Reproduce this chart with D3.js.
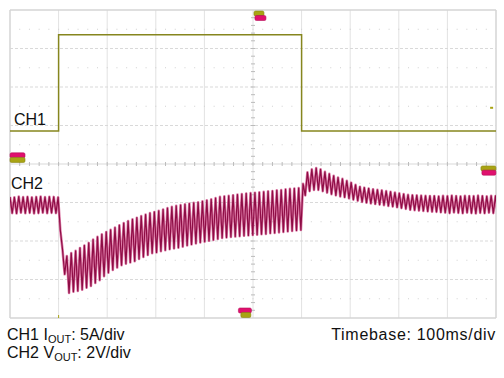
<!DOCTYPE html>
<html>
<head>
<meta charset="utf-8">
<script src="https://cdn.jsdelivr.net/npm/d3@7"></script>
<style>
  body { margin: 0; background: #fff; }
  svg text { font-family: "Liberation Sans", Arial, Helvetica, sans-serif; fill: #111; }
</style>
</head>
<body>
<div id="scope"></div>
<script>
// screen: 10 div x 100 ms, 8 div vertical
var width = 504, height = 378;
var timeDivs = d3.range(0, 1001, 100);     // ms
var vertDivs = d3.range(-4, 5, 1);          // divisions

// CH1 output current (A), 5 A/div
var ch1Time = [0, 100, 100, 600, 600, 1000];
var ch1Amps = [0, 0, 12.5, 12.5, 0, 0];
var ch1Pos = 0.86, ch1Scale = 5;

// CH2 output voltage deviation (V), 2 V/div, ripple peaks and troughs every 9 ms
var ripplePeriod = 9;
var ch2Peak = [0.42,0.40,0.44,0.41,0.43,0.40,0.42,0.44,0.41,0.43,0.42,0.40,
  -2.30,-2.65,-2.50,-2.38,-2.23,-2.10,-1.97,-1.80,-1.65,-1.52,-1.40,-1.29,-1.17,-1.05,
  -0.94,-0.83,-0.74,-0.66,-0.58,-0.50,-0.42,-0.36,-0.30,-0.23,-0.16,-0.09,-0.04,0.00,
  0.04,0.07,0.11,0.14,0.19,0.24,0.30,0.36,0.42,0.45,0.48,0.51,0.54,0.57,0.60,0.62,
  0.64,0.66,0.68,0.71,0.73,0.76,0.78,0.81,0.84,0.86,0.88,
  1.10,1.70,1.85,1.92,1.85,1.72,1.62,1.52,1.43,1.36,1.26,1.16,1.05,0.95,0.90,0.86,
  0.82,0.79,0.76,0.72,0.69,0.65,0.61,0.57,0.53,0.51,0.50,0.49,0.48,0.47,
  0.47,0.45,0.48,0.46,0.49,0.47,0.45,0.48,0.47,0.46,0.49,0.47,0.45,0.48,0.47];
var ch2Trough = [-0.42,-0.44,-0.40,-0.43,-0.41,-0.44,-0.42,-0.40,-0.43,-0.41,-0.42,-1.30,
  -3.60,-4.57,-4.50,-4.46,-4.40,-4.30,-4.20,-4.05,-3.90,-3.70,-3.52,-3.37,-3.25,-3.13,
  -3.05,-2.98,-2.92,-2.80,-2.70,-2.60,-2.50,-2.46,-2.40,-2.35,-2.30,-2.26,-2.22,-2.16,
  -2.10,-2.05,-2.00,-1.95,-1.90,-1.86,-1.81,-1.76,-1.71,-1.69,-1.66,-1.64,-1.62,-1.60,
  -1.58,-1.56,-1.54,-1.52,-1.50,-1.47,-1.45,-1.42,-1.40,-1.37,-1.35,-1.32,-1.30,
  0.50,0.72,0.78,0.78,0.72,0.64,0.56,0.50,0.44,0.40,0.34,0.28,0.22,0.16,0.12,0.08,
  0.05,0.02,-0.01,-0.05,-0.08,-0.12,-0.16,-0.20,-0.25,-0.27,-0.29,-0.31,-0.33,-0.35,
  -0.36,-0.38,-0.40,-0.42,-0.39,-0.41,-0.43,-0.40,-0.42,-0.44,-0.41,-0.43,-0.40,-0.42,-0.41];
var ch2Pos = -1.065, ch2Scale = 2;

var col1 = "#86861e", col2 = "#8e0c45", col2Glow = "#d2508a";
var tagOlive = "#a9a414", tagPink = "#e0106e";

var x = d3.scaleLinear().domain([0, 1000]).range([10, 496]);
var y = d3.scaleLinear().domain([-4, 4]).range([318, 10]);

var svg = d3.select("#scope").append("svg")
    .attr("width", width).attr("height", height);

/* grid */
var grid = svg.append("g").attr("class", "grid");
grid.selectAll(".vl").data(timeDivs).enter().append("line")
    .attr("x1", d => x(d)).attr("x2", d => x(d))
    .attr("y1", y(4)).attr("y2", y(-4))
    .style("stroke", d => (d == 0 || d == 1000) ? "#d4d4d4" : "#e2e2e2")
    .style("stroke-width", d => (d == 0 || d == 1000) ? 1.5 : 1);
grid.selectAll(".hl").data(vertDivs).enter().append("line")
    .attr("x1", x(0)).attr("x2", x(1000))
    .attr("y1", d => y(d)).attr("y2", d => y(d))
    .style("stroke", d => (Math.abs(d) == 4) ? "#d4d4d4" : "#d9d9d9")
    .style("stroke-width", d => (Math.abs(d) == 4) ? 1.5 : 1)
    .style("stroke-dasharray", d => (Math.abs(d) == 4 || d == 0) ? null : "3,2");

// faint dots on half division rows
var halfRows = d3.range(-3.5, 4, 1);
var dotCols = d3.range(20, 1000, 20);
halfRows.forEach(function(r) {
  grid.selectAll(null).data(dotCols).enter().append("rect")
      .attr("x", d => x(d) - 0.5).attr("y", y(r) - 0.5)
      .attr("width", 1).attr("height", 1)
      .style("fill", "#d0d0d0");
});

// minor ticks on centre cross
grid.selectAll(".tx").data(d3.range(20, 1000, 20)).enter().append("line")
    .attr("x1", d => x(d)).attr("x2", d => x(d))
    .attr("y1", y(0) - 2).attr("y2", y(0) + 2)
    .style("stroke", "#bbb");
grid.selectAll(".ty").data(d3.range(-3.8, 4, 0.2)).enter().append("line")
    .attr("x1", x(500) - 2).attr("x2", x(500) + 2)
    .attr("y1", d => y(d)).attr("y2", d => y(d))
    .style("stroke", "#bbb");

/* CH1 trace */
var ch1Data = ch1Time.map((t, i) => ({ t: t, v: ch1Pos + ch1Amps[i] / ch1Scale }));
svg.append("path")
    .datum(ch1Data)
    .attr("d", d3.line().x(d => x(d.t)).y(d => y(d.v)))
    .style("fill", "none").style("stroke", col1).style("stroke-width", 1.5);

/* CH2 trace */
var ch2Data = [];
ch2Peak.forEach(function(p, k) {
  ch2Data.push({ t: k * ripplePeriod, v: ch2Pos + p / ch2Scale });
  ch2Data.push({ t: k * ripplePeriod + ripplePeriod / 2, v: ch2Pos + ch2Trough[k] / ch2Scale });
});
svg.append("clipPath").attr("id", "clip")
  .append("rect").attr("x", x(0)).attr("y", y(4)).attr("width", x(1000) - x(0)).attr("height", y(-4) - y(4));
var line2 = d3.line().x(d => x(d.t)).y(d => y(d.v));
svg.append("path")
    .datum(ch2Data)
    .attr("clip-path", "url(#clip)")
    .attr("d", line2)
    .style("fill", "none").style("stroke", col2Glow).style("stroke-width", 2.6)
    .style("stroke-opacity", 0.75).style("stroke-linejoin", "round");
svg.append("path")
    .datum(ch2Data)
    .attr("clip-path", "url(#clip)")
    .attr("d", line2)
    .style("fill", "none").style("stroke", col2).style("stroke-width", 1.2)
    .style("stroke-linejoin", "round");

/* markers */
function marker(cx, cy, w, c) {
  svg.append("rect").attr("x", cx).attr("y", cy).attr("width", w).attr("height", 5)
     .attr("rx", 1.5).style("fill", c).style("stroke", d3.color(c).darker(0.6)).style("stroke-width", 0.6);
}
marker(x(0), y(0.29), 15, tagPink);
marker(x(0), y(0.17), 15, tagOlive);
marker(x(502), y(4) + 1, 10, tagOlive);
marker(x(504), y(4) + 5.5, 11, tagPink);
marker(x(470), y(-4) - 10, 13, tagPink);
marker(x(475), y(-4) - 5.5, 10, tagOlive);
marker(x(969), y(-0.05), 15, tagOlive);
marker(x(971), y(-0.16), 14, tagPink);
svg.append("line").attr("x1", x(100)).attr("x2", x(100)).attr("y1", y(-4) - 3).attr("y2", y(-4))
   .style("stroke", tagOlive);
svg.append("line").attr("x1", x(992) - 2).attr("x2", x(992) + 1).attr("y1", y(ch1Pos + 0.6)).attr("y2", y(ch1Pos + 0.6))
   .style("stroke", tagOlive).style("stroke-width", 2);

/* labels */
svg.append("text").attr("x", 14).attr("y", 125).style("font-size", "16px").text("CH1");
svg.append("text").attr("x", 11).attr("y", 189).style("font-size", "16px").text("CH2");

var t1 = svg.append("text").attr("x", 7).attr("y", 340).style("font-size", "16px");
t1.append("tspan").text("CH1 I");
t1.append("tspan").attr("dy", 3).style("font-size", "11px").text("OUT");
t1.append("tspan").attr("dy", -3).text(": 5A/div");

var t2 = svg.append("text").attr("x", 7).attr("y", 358).style("font-size", "16px");
t2.append("tspan").text("CH2 V");
t2.append("tspan").attr("dy", 3).style("font-size", "11px").text("OUT");
t2.append("tspan").attr("dy", -3).text(": 2V/div");

svg.append("text").attr("x", 496).attr("y", 340).attr("text-anchor", "end")
   .style("font-size", "16px").style("letter-spacing", "0.7px").text("Timebase: 100ms/div");
</script>
</body>
</html>
